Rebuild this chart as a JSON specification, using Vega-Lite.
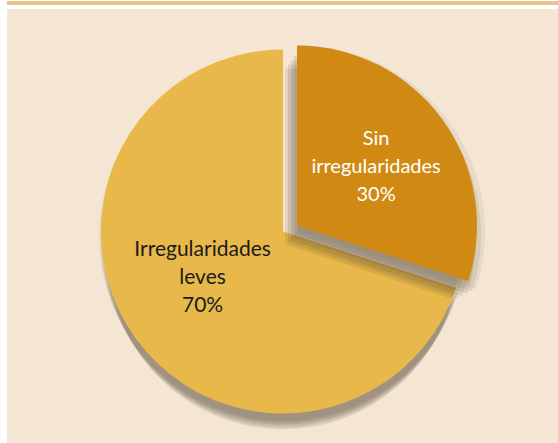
{
  "$schema": "https://vega.github.io/schema/vega-lite/v6.json",
  "background": "white",
  "padding": {"left": 6, "top": 0, "right": 0, "bottom": 0},
  "spacing": 4,
  "config": {"view": {"stroke": null}},
  "datasets": {
    "pie": [
      {"cat": "Sin irregularidades", "value": 30, "ord": 1, "label": "Sin\nirregularidades\n30%"},
      {"cat": "Irregularidades leves", "value": 70, "ord": 2, "label": "Irregularidades\nleves\n70%"}
    ]
  },
  "vconcat": [
    {
      "width": 552,
      "height": 4,
      "view": {"fill": "#e9c48c", "stroke": null},
      "data": {"values": [{"a": 1}]},
      "mark": {"type": "rule", "opacity": 0},
      "encoding": {}
    },
    {
      "width": 552,
      "height": 435,
      "view": {"fill": "#f4e6d2", "stroke": null},
      "data": {"name": "pie"},
      "encoding": {
        "theta": {"field": "value", "type": "quantitative", "stack": true},
        "order": {"field": "ord", "type": "quantitative"}
      },
      "layer": [
        {"mark": {"type": "arc", "radius": 174, "xOffset": 0, "yOffset": 29, "fill": "#4a4030"},
         "encoding": {"opacity": {"condition": {"test": "datum.ord == 2", "value": 0.08}, "value": 0}}},
        {"mark": {"type": "arc", "radius": 176, "xOffset": 0, "yOffset": 26, "fill": "#4a4030"},
         "encoding": {"opacity": {"condition": {"test": "datum.ord == 2", "value": 0.1}, "value": 0}}},
        {"mark": {"type": "arc", "radius": 178, "xOffset": 0, "yOffset": 22, "fill": "#4a4030"},
         "encoding": {"opacity": {"condition": {"test": "datum.ord == 2", "value": 0.12}, "value": 0}}},
        {"mark": {"type": "arc", "radius": 180, "xOffset": 0, "yOffset": 18, "fill": "#4a4030"},
         "encoding": {"opacity": {"condition": {"test": "datum.ord == 2", "value": 0.13}, "value": 0}}},
        {"mark": {"type": "arc", "radius": 182, "xOffset": 0, "yOffset": 14, "fill": "#4a4030"},
         "encoding": {"opacity": {"condition": {"test": "datum.ord == 2", "value": 0.13}, "value": 0}}},
        {"mark": {"type": "arc", "radius": 184, "xOffset": 0, "yOffset": 10, "fill": "#4a4030"},
         "encoding": {"opacity": {"condition": {"test": "datum.ord == 2", "value": 0.08}, "value": 0}}},
        {"mark": {"type": "arc", "radius": 182, "xOffset": 0, "yOffset": 5, "fill": "#e8b94a"},
         "encoding": {"opacity": {"condition": {"test": "datum.ord == 2", "value": 1}, "value": 0}}},
        {"mark": {"type": "arc", "radius": 176, "xOffset": 2, "yOffset": 18, "fill": "#4a4030"},
         "encoding": {"opacity": {"condition": {"test": "datum.ord == 1", "value": 0.11}, "value": 0}}},
        {"mark": {"type": "arc", "radius": 178, "xOffset": 5, "yOffset": 16, "fill": "#4a4030"},
         "encoding": {"opacity": {"condition": {"test": "datum.ord == 1", "value": 0.13}, "value": 0}}},
        {"mark": {"type": "arc", "radius": 180, "xOffset": 8, "yOffset": 14, "fill": "#4a4030"},
         "encoding": {"opacity": {"condition": {"test": "datum.ord == 1", "value": 0.13}, "value": 0}}},
        {"mark": {"type": "arc", "radius": 182, "xOffset": 11, "yOffset": 11, "fill": "#4a4030"},
         "encoding": {"opacity": {"condition": {"test": "datum.ord == 1", "value": 0.13}, "value": 0}}},
        {"mark": {"type": "arc", "radius": 184, "xOffset": 14, "yOffset": 8, "fill": "#4a4030"},
         "encoding": {"opacity": {"condition": {"test": "datum.ord == 1", "value": 0.1}, "value": 0}}},
        {"mark": {"type": "arc", "radius": 186, "xOffset": 16, "yOffset": 5, "fill": "#4a4030"},
         "encoding": {"opacity": {"condition": {"test": "datum.ord == 1", "value": 0.07}, "value": 0}}},
        {"mark": {"type": "arc", "radius": 180, "xOffset": 14, "yOffset": -1, "fill": "#d08a14"},
         "encoding": {"opacity": {"condition": {"test": "datum.ord == 1", "value": 1}, "value": 0}}},
        {"mark": {"type": "text", "radius": 99, "xOffset": 13, "yOffset": -29, "lineBreak": "\n", "lineHeight": 28, "font": "Lato", "fontSize": 20, "fill": "white", "align": "center", "baseline": "middle"},
         "encoding": {"text": {"field": "label", "type": "nominal"},
                      "opacity": {"condition": {"test": "datum.ord == 1", "value": 1}, "value": 0}}},
        {"mark": {"type": "text", "radius": 92, "xOffset": -6, "yOffset": -31, "lineBreak": "\n", "lineHeight": 28, "font": "Lato", "fontSize": 21, "fill": "#1a1a1a", "align": "center", "baseline": "middle"},
         "encoding": {"text": {"field": "label", "type": "nominal"},
                      "opacity": {"condition": {"test": "datum.ord == 2", "value": 1}, "value": 0}}}
      ]
    }
  ]
}
